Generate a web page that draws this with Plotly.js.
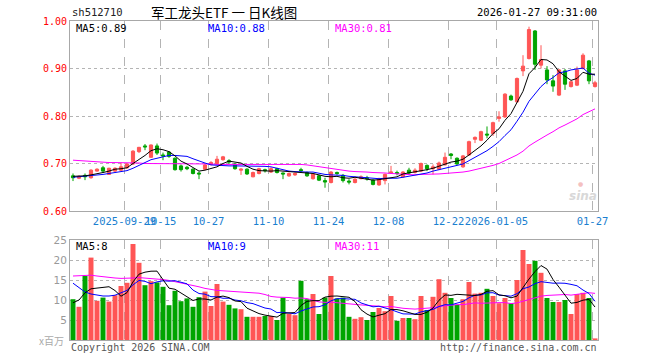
<!DOCTYPE html>
<html>
<head>
<meta charset="utf-8">
<script src="https://cdn.plot.ly/plotly-3.0.1.min.js"></script>
<style>html,body{margin:0;padding:0;background:#fff;}#chart{width:660px;height:360px;}</style>
</head>
<body>
<div id="chart"></div>
<script>
const dates = [
'2025-09-16','2025-09-17','2025-09-18','2025-09-19','2025-09-22','2025-09-23','2025-09-24','2025-09-25','2025-09-26','2025-09-29','2025-09-30',
'2025-10-09','2025-10-10','2025-10-13','2025-10-14','2025-10-15','2025-10-16','2025-10-17','2025-10-20','2025-10-21','2025-10-22','2025-10-23','2025-10-24','2025-10-27','2025-10-28','2025-10-29','2025-10-30','2025-10-31',
'2025-11-03','2025-11-04','2025-11-05','2025-11-06','2025-11-07','2025-11-10','2025-11-11','2025-11-12','2025-11-13','2025-11-14','2025-11-17','2025-11-18','2025-11-19','2025-11-20','2025-11-21','2025-11-24','2025-11-25','2025-11-26','2025-11-27','2025-11-28',
'2025-12-01','2025-12-02','2025-12-03','2025-12-04','2025-12-05','2025-12-08','2025-12-09','2025-12-10','2025-12-11','2025-12-12','2025-12-15','2025-12-16','2025-12-17','2025-12-18','2025-12-19','2025-12-22','2025-12-23','2025-12-24','2025-12-25','2025-12-26','2025-12-29','2025-12-30','2025-12-31',
'2026-01-05','2026-01-06','2026-01-07','2026-01-08','2026-01-09','2026-01-12','2026-01-13','2026-01-14','2026-01-15','2026-01-16','2026-01-19','2026-01-20','2026-01-21','2026-01-22','2026-01-23','2026-01-26','2026-01-27'
];
const openP = [0.674,0.669,0.675,0.670,0.684,0.691,0.677,0.684,0.686,0.691,
0.699,0.725,0.737,0.713,0.737,0.718,0.724,0.711,0.695,0.692,
0.688,0.680,0.688,0.698,0.700,0.708,0.706,0.699,0.686,0.688,
0.672,0.679,0.687,0.682,0.689,0.680,0.674,0.676,0.687,0.681,
0.668,0.674,0.664,0.660,0.681,0.675,0.663,0.660,0.668,0.670,
0.665,0.655,0.664,0.680,0.681,0.672,0.686,0.681,0.684,0.696,
0.689,0.688,0.697,0.720,0.711,0.693,0.718,0.751,0.749,0.762,
0.763,0.795,0.798,0.842,0.830,0.895,0.921,0.979,0.907,0.897,
0.874,0.844,0.895,0.862,0.865,0.900,0.916,0.862];
const highP = [0.679,0.675,0.679,0.688,0.690,0.695,0.691,0.692,0.702,0.701,
0.728,0.735,0.741,0.740,0.742,0.723,0.726,0.713,0.698,0.695,
0.690,0.683,0.699,0.705,0.716,0.716,0.709,0.701,0.690,0.690,
0.683,0.691,0.689,0.692,0.691,0.681,0.681,0.681,0.691,0.683,
0.680,0.676,0.670,0.684,0.683,0.678,0.667,0.669,0.675,0.674,
0.667,0.670,0.679,0.695,0.685,0.684,0.691,0.690,0.702,0.698,
0.698,0.704,0.723,0.722,0.713,0.718,0.748,0.757,0.769,0.778,
0.788,0.810,0.848,0.845,0.881,0.928,0.988,0.981,0.949,0.905,
0.886,0.899,0.899,0.874,0.904,0.932,0.918,0.874];
const lowP = [0.663,0.667,0.665,0.668,0.683,0.680,0.676,0.682,0.684,0.689,
0.697,0.722,0.728,0.712,0.718,0.707,0.712,0.685,0.683,0.686,
0.677,0.667,0.686,0.696,0.699,0.706,0.699,0.687,0.676,0.676,
0.671,0.677,0.681,0.680,0.679,0.667,0.672,0.674,0.681,0.672,
0.666,0.663,0.649,0.658,0.676,0.660,0.656,0.658,0.667,0.664,
0.654,0.653,0.656,0.678,0.675,0.670,0.678,0.679,0.682,0.684,
0.677,0.686,0.696,0.709,0.697,0.691,0.716,0.743,0.747,0.753,
0.758,0.788,0.796,0.832,0.828,0.884,0.919,0.897,0.900,0.867,
0.851,0.842,0.855,0.860,0.863,0.898,0.867,0.860];
const closeP = [0.670,0.673,0.672,0.686,0.688,0.684,0.690,0.690,0.693,0.699,
0.726,0.734,0.735,0.739,0.722,0.716,0.715,0.687,0.687,0.689,
0.679,0.678,0.697,0.702,0.709,0.714,0.703,0.689,0.688,0.678,
0.681,0.689,0.685,0.689,0.681,0.678,0.679,0.679,0.685,0.674,
0.678,0.665,0.661,0.682,0.679,0.664,0.661,0.667,0.672,0.668,
0.656,0.668,0.677,0.682,0.679,0.682,0.680,0.686,0.700,0.689,
0.693,0.701,0.713,0.717,0.699,0.716,0.746,0.755,0.767,0.760,
0.786,0.798,0.846,0.834,0.879,0.905,0.982,0.909,0.919,0.876,
0.863,0.897,0.867,0.872,0.897,0.928,0.874,0.870];
const ma5 = [0.673,0.673,0.674,0.676,0.678,0.681,0.684,0.688,0.689,0.691,
0.700,0.708,0.717,0.727,0.731,0.729,0.725,0.716,0.705,0.699,
0.691,0.684,0.686,0.689,0.693,0.700,0.705,0.703,0.701,0.694,
0.688,0.685,0.684,0.684,0.685,0.684,0.682,0.681,0.680,0.679,
0.679,0.676,0.673,0.672,0.673,0.670,0.669,0.671,0.669,0.666,
0.665,0.666,0.668,0.670,0.672,0.678,0.680,0.682,0.685,0.687,
0.690,0.694,0.699,0.703,0.705,0.709,0.718,0.727,0.737,0.749,
0.763,0.773,0.791,0.805,0.829,0.852,0.889,0.902,0.919,0.918,
0.910,0.893,0.884,0.875,0.879,0.892,0.888,0.888];
const ma10 = [0.671,0.672,0.673,0.674,0.676,0.677,0.679,0.681,0.683,0.685,
0.690,0.696,0.703,0.708,0.711,0.714,0.717,0.717,0.716,0.715,
0.710,0.705,0.701,0.697,0.696,0.696,0.695,0.695,0.695,0.694,
0.694,0.695,0.694,0.693,0.690,0.686,0.684,0.683,0.682,0.682,
0.682,0.679,0.677,0.676,0.676,0.675,0.673,0.672,0.670,0.670,
0.668,0.668,0.669,0.669,0.669,0.671,0.673,0.675,0.678,0.680,
0.684,0.687,0.691,0.694,0.696,0.699,0.706,0.713,0.720,0.727,
0.736,0.746,0.759,0.771,0.789,0.808,0.831,0.847,0.862,0.873,
0.881,0.891,0.893,0.897,0.899,0.901,0.890,0.886];
const ma30 = [0.707,0.706,0.705,0.704,0.703,0.703,0.702,0.702,0.702,0.701,
0.701,0.701,0.700,0.700,0.700,0.700,0.700,0.699,0.699,0.699,
0.699,0.699,0.699,0.699,0.698,0.698,0.698,0.698,0.698,0.698,
0.698,0.699,0.699,0.699,0.699,0.699,0.698,0.698,0.698,0.697,
0.695,0.693,0.691,0.689,0.687,0.685,0.684,0.683,0.683,0.682,
0.681,0.681,0.680,0.679,0.678,0.677,0.677,0.676,0.677,0.677,
0.678,0.678,0.679,0.680,0.680,0.682,0.684,0.687,0.689,0.692,
0.696,0.700,0.706,0.711,0.718,0.726,0.737,0.745,0.753,0.760,
0.767,0.775,0.781,0.787,0.794,0.803,0.809,0.815];
const volume = [10.2,8.3,16.0,20.6,9.8,10.6,9.6,11.2,13.5,14.3,
24.0,19.3,13.7,14.7,14.4,13.3,8.7,12.3,9.7,10.4,
8.3,10.7,12.1,8.5,14.0,9.6,8.8,7.9,7.7,5.8,
5.8,5.8,6.0,6.0,5.0,10.6,6.5,6.2,14.8,10.2,
11.5,6.5,10.6,16.0,10.4,10.6,5.8,5.3,5.7,5.0,
7.0,8.0,7.2,11.0,4.8,5.5,5.5,5.2,11.0,7.5,
10.8,15.2,11.8,10.5,8.8,10.2,14.5,11.6,11.8,12.8,
11.0,9.2,10.5,9.2,15.0,22.5,19.0,19.8,16.8,10.5,
9.5,9.5,10.0,6.5,11.5,11.8,10.5,0.4];
const volMa5 = [9.3,10.0,11.8,12.8,12.98,13.06,13.32,12.36,10.94,11.84,
14.52,16.46,16.96,17.2,17.22,15.08,12.96,12.68,11.68,10.88,
9.88,10.28,10.24,10.0,10.72,10.98,10.6,9.76,9.6,7.96,
7.2,6.6,6.22,5.88,5.72,6.68,6.82,6.86,8.62,9.66,
9.84,9.84,10.72,10.96,11.0,10.82,10.68,9.62,7.56,6.48,
5.76,6.2,6.58,7.64,7.6,7.3,6.8,6.4,6.4,6.94,
8.0,9.94,11.26,11.16,11.42,11.3,11.16,11.12,11.38,12.18,
12.34,11.28,11.06,10.54,10.98,13.28,15.24,17.1,18.62,17.72,
15.12,13.22,11.26,9.2,9.4,9.96,10.16,8.24];
const volMa10 = [14.2,13.0,12.0,11.5,11.2,11.0,11.0,11.2,11.8,12.41,
13.79,14.89,14.66,14.07,14.53,14.8,14.71,14.82,14.44,14.05,
12.48,11.62,11.46,10.84,10.8,10.43,10.44,10.0,9.8,9.34,
9.09,8.6,7.99,7.74,6.84,6.94,6.71,6.54,7.25,7.69,
8.26,8.33,8.79,9.79,10.33,10.33,10.26,10.17,9.26,8.74,
8.29,8.44,8.1,7.6,7.04,6.53,6.5,6.49,7.02,7.27,
7.65,8.37,8.83,8.78,9.18,9.65,10.55,11.19,11.27,11.8,
11.82,11.22,11.09,10.96,11.58,12.81,13.26,14.08,14.58,14.35,
14.2,14.23,14.18,13.91,13.56,12.49,11.64,9.67];
const volMa30 = [16.0,16.1,16.2,16.2,16.0,15.8,15.6,15.5,15.4,15.4,
15.5,15.6,15.5,15.4,15.3,15.1,14.9,14.6,14.3,14.0,
13.7,13.3,12.9,12.6,12.4,12.3,12.2,12.1,12.0,11.93,
11.79,11.70,11.37,10.88,10.72,10.72,10.62,10.45,10.50,10.36,
9.94,9.52,9.41,9.46,9.32,9.23,9.14,8.90,8.77,8.59,
8.55,8.46,8.29,8.38,8.07,7.93,7.82,7.73,7.84,7.90,
8.07,8.38,8.57,8.72,8.85,8.84,9.10,9.28,9.18,9.27,
9.25,9.34,9.34,9.11,9.27,9.66,10.10,10.59,10.96,11.14,
11.22,11.27,11.37,11.22,11.44,11.65,11.82,11.66];
const tickDates = ['2025-09-29','2025-10-15','2025-10-27','2025-11-10','2025-11-24','2025-12-08','2025-12-22','2026-01-05','2026-01-27'];
const tickLabels = ['2025-09-29','10-15','10-27','11-10','11-24','12-08','12-22','2026-01-05','01-27'];
const priceTicks = [0.60,0.70,0.80,0.90,1.00];
const volTicks = [5,10,15,20,25];

const UP = '#ff5555', DOWN = '#00a400';
const idx = dates.map((d, i) => i);
const tickPos = tickDates.map(d => dates.indexOf(d) - 0.42);
const volColors = idx.map(i => closeP[i] >= openP[i] ? UP : DOWN);

const MONO = 'DejaVu Sans Mono, monospace';
const traces = [
  {type:'candlestick', x:idx, open:openP, high:highP, low:lowP, close:closeP, xaxis:'x', yaxis:'y',
   increasing:{line:{color:UP,width:1}, fillcolor:UP},
   decreasing:{line:{color:DOWN,width:1}, fillcolor:DOWN},
   whiskerwidth:0, hoverinfo:'skip'},
  {type:'scatter', mode:'lines', x:idx, y:ma30, line:{color:'#ff00ff',width:1}, xaxis:'x', yaxis:'y', hoverinfo:'skip'},
  {type:'scatter', mode:'lines', x:idx, y:ma10, line:{color:'#0000ff',width:1}, xaxis:'x', yaxis:'y', hoverinfo:'skip'},
  {type:'scatter', mode:'lines', x:idx, y:ma5, line:{color:'#000000',width:1}, xaxis:'x', yaxis:'y', hoverinfo:'skip'},
  {type:'bar', x:idx, y:volume, marker:{color:volColors, line:{width:0}}, xaxis:'x2', yaxis:'y2', hoverinfo:'skip'},
  {type:'scatter', mode:'lines', x:idx, y:volMa30, line:{color:'#ff00ff',width:1}, xaxis:'x2', yaxis:'y2', hoverinfo:'skip'},
  {type:'scatter', mode:'lines', x:idx, y:volMa10, line:{color:'#0000ff',width:1}, xaxis:'x2', yaxis:'y2', hoverinfo:'skip'},
  {type:'scatter', mode:'lines', x:idx, y:volMa5, line:{color:'#000000',width:1}, xaxis:'x2', yaxis:'y2', hoverinfo:'skip'}
];

const L = 70, R = 598, T = 21, B = 340;
const px = x => (x - L) / (R - L);
const py = y => (B - y) / (B - T);
function ann(text, x, y, anchor, color, size, family, extra) {
  return Object.assign({text:text, xref:'paper', yref:'paper', x:px(x), y:py(y), xanchor:anchor, yanchor:'middle',
    showarrow:false, font:{color:color, size:size, family:family || MONO}}, extra || {});
}

const grid = '#b4b4b4', frame = '#a8a8a8';
const layout = {
  width:660, height:360,
  margin:{l:L, r:660-R, t:T, b:360-B},
  paper_bgcolor:'#ffffff', plot_bgcolor:'#ffffff',
  showlegend:false, boxgap:0.25, bargap:0.17,
  font:{family:MONO, size:10},
  xaxis:{domain:[0,1], anchor:'y', range:[-0.5,87.5], tickmode:'array', tickvals:tickPos, ticktext:tickLabels, tickangle:0,
    tickfont:{color:'#1a80d0', size:10.5, family:MONO}, ticks:'', showgrid:true, gridcolor:grid, griddash:'dash', gridwidth:1,
    showline:true, mirror:true, linecolor:frame, linewidth:1, zeroline:false, rangeslider:{visible:false}, fixedrange:true},
  yaxis:{domain:[py(211),1], anchor:'x', range:[0.60,1.00], tickmode:'array', tickvals:priceTicks, tickformat:'.2f',
    tickfont:{color:'#ff0000', size:10, family:MONO}, ticks:'', showgrid:true, gridcolor:grid, griddash:'dot', gridwidth:1,
    showline:true, mirror:true, linecolor:frame, linewidth:1, zeroline:false, fixedrange:true},
  xaxis2:{domain:[0,1], anchor:'y2', matches:'x', range:[-0.5,87.5], tickmode:'array', tickvals:tickPos, showticklabels:false, ticks:'',
    showgrid:true, gridcolor:grid, griddash:'dash', gridwidth:1, showline:true, mirror:true, linecolor:frame, linewidth:1, zeroline:false, fixedrange:true},
  yaxis2:{domain:[0,py(240)], anchor:'x2', range:[0,25], tickmode:'array', tickvals:volTicks,
    tickfont:{color:'#999999', size:10.5, family:'DejaVu Sans, sans-serif'}, ticks:'', showgrid:true, gridcolor:grid, griddash:'dot', gridwidth:1,
    showline:true, mirror:true, linecolor:frame, linewidth:1, zeroline:false, fixedrange:true},
  annotations:[
    ann('sh512710', 70, 12, 'left', '#222222', 10.5),
    ann('军工龙头ETF 一 日K线图', 224, 12, 'center', '#000000', 13.5, 'Noto Sans CJK SC, sans-serif'),
    ann('2026-01-27 09:31:00', 599, 12, 'right', '#000000', 10.5),
    ann('MA5:0.89', 74, 28, 'left', '#000000', 10.5),
    ann('MA10:0.88', 206, 28, 'left', '#0000ff', 10.5),
    ann('MA30:0.81', 333, 28, 'left', '#ff00ff', 10.5),
    ann('MA5:8', 74, 246, 'left', '#000000', 10.5),
    ann('MA10:9', 206, 246, 'left', '#0000ff', 10.5),
    ann('MA30:11', 333, 246, 'left', '#ff00ff', 10.5),
    ann('x百万', 66, 341, 'right', '#aaaaaa', 10, 'Noto Sans CJK SC, sans-serif'),
    ann('Copyright 2026 SINA.COM', 69, 347, 'left', '#555555', 10),
    ann('http://finance.sina.com.cn', 599, 347, 'right', '#555555', 10),
    ann('<i><b>sina</b></i>', 583, 196, 'center', '#d8d8d8', 12, 'DejaVu Sans, sans-serif'),
    ann('●', 580, 183, 'center', '#f4c0c0', 6, 'DejaVu Sans, sans-serif')
  ]
};
Plotly.newPlot('chart', traces, layout, {staticPlot:true, displayModeBar:false});
</script>
</body>
</html>
